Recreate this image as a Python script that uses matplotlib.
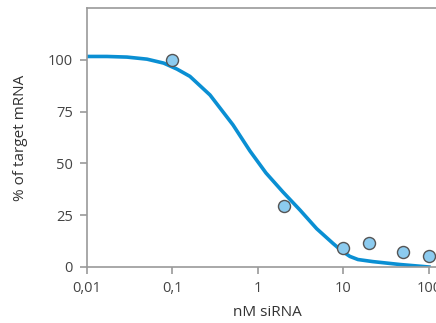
import matplotlib.pyplot as plt
from matplotlib.ticker import FixedLocator, FixedFormatter, NullLocator

plt.rcParams['font.family'] = ['Open Sans', 'DejaVu Sans']

# measured points
dose = [0.1, 2, 10, 20, 50, 100]
mrna = [100, 29.6, 9.3, 11.6, 7.4, 5.2]

# fitted curve
curve_x = [0.01, 0.0171, 0.0294, 0.0504, 0.0789, 0.113, 0.160, 0.275, 0.51, 0.806,
           1.24, 1.96, 3.10, 4.86, 7.54, 9.6, 11.9, 14.8, 22.1, 45.8, 100]
curve_y = [101.6, 101.6, 101.3, 100.3, 98.4, 95.5, 92.0, 83.0, 68.6, 56.0,
           45.4, 36.2, 27.5, 18.5, 11.4, 7.7, 5.1, 3.6, 2.6, 1.2, 0]

xticks = [0.01, 0.1, 1, 10, 100]
xtick_labels = ['0,01', '0,1', '1', '10', '100']
yticks = [0, 25, 50, 75, 100]

fig = plt.figure(figsize=(4.36, 3.23), dpi=100)
ax = fig.add_axes([0.1995, 0.1734, 0.8005, 0.8019])

ax.plot(curve_x, curve_y, color='#0a8fd3', lw=2.6, solid_joinstyle='round', zorder=2)
ax.scatter(dose, mrna, s=75, facecolor='#8ccbef', edgecolor='#555555', linewidths=1.0, zorder=3, clip_on=False)

ax.set_xscale('log')
ax.set_xlim(0.01, 121)
ax.set_ylim(0, 125)
ax.xaxis.set_major_locator(FixedLocator(xticks))
ax.xaxis.set_major_formatter(FixedFormatter(xtick_labels))
ax.xaxis.set_minor_locator(NullLocator())
ax.set_yticks(yticks)

for side in ['left', 'bottom', 'top']:
    ax.spines[side].set_color('#9a9a9a')
    ax.spines[side].set_linewidth(1.2)
ax.spines['right'].set_visible(False)

ax.tick_params(direction='out', length=5, width=1.2, color='#9a9a9a',
               labelcolor='#444444', labelsize=10.5, pad=5)

fig.text(267.5 / 436, 1 - 313 / 323, 'nM siRNA', fontsize=11, color='#333333',
         ha='center', va='center')
fig.text(20 / 436, 1 - 137.5 / 323, '% of target mRNA', fontsize=11, color='#333333',
         ha='center', va='center', rotation=90)

fig.savefig('out.png', dpi=100)
